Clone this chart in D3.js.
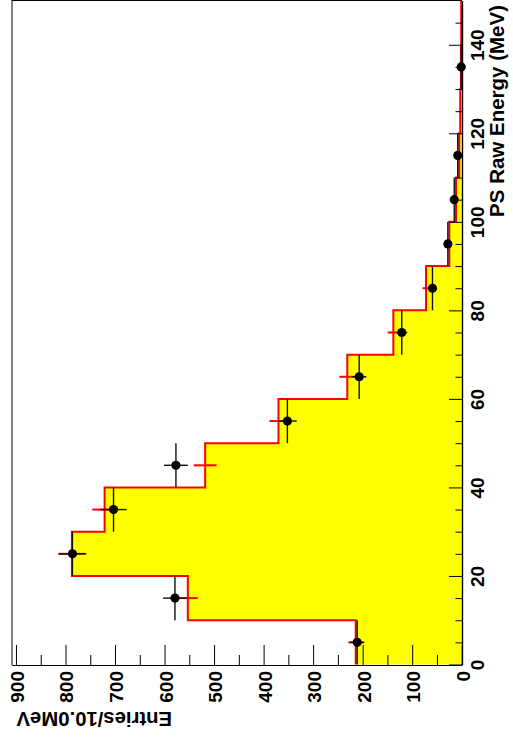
<!DOCTYPE html>
<html lang="en">
<head>
  <meta charset="UTF-8">
  <title>PS Raw Energy</title>
  <script src="https://d3js.org/d3.v7.min.js"></script>
  <style>
    body { margin: 0; background: #fff; }
    svg { display: block; font-family: "Liberation Sans", Arial, sans-serif; font-weight: bold; }
  </style>
</head>
<body>
  <div id="chart"></div>
  <script>
    // bins are 10 MeV wide, drawn rotated (energy runs up the page)
    const binCenters = [5, 15, 25, 35, 45, 55, 65, 75, 85, 95, 105, 115, 125, 135, 145];
    const mcEntries  = [214, 553, 787, 721, 518, 370, 231, 138, 72, 25, 11.5, 5, 3, 1.5, 1];
    const mcErrors   = [15, 20, 27, 25, 23, 18, 16, 11.5, 7, 4.5, 3, 2, 1.5, 1, 1];
    const dataEntries = [211, 579, 786, 703, 577, 352, 207, 121, 59, 28, 15, 8, 0, 1, 0];
    const dataErrors  = [14.5, 24, 28, 26.5, 24, 18.8, 14.4, 11, 7.7, 5.3, 3.9, 2.8, 0, 1, 0];
    const energyTicks = [0, 20, 40, 60, 80, 100, 120, 140];
    const entryTicks = [0, 100, 200, 300, 400, 500, 600, 700, 800, 900];
    const binWidth = 10;

    const W = 513, H = 741;
    const svg = d3.select("#chart").append("svg").attr("width", W).attr("height", H);

    // entries -> horizontal (0 on the right), energy -> vertical (0 at bottom)
    const xE = d3.scaleLinear().domain([0, 908]).range([461.7, 12]);
    const yE = d3.scaleLinear().domain([0, 150]).range([664.5, 0.5]);

    // MC histogram: yellow fill, red outline
    const steps = [];
    binCenters.forEach((c, i) => {
      steps.push([mcEntries[i], c - binWidth / 2]);
      steps.push([mcEntries[i], c + binWidth / 2]);
    });
    const area = d3.area()
      .y(d => yE(d[1]))
      .x0(xE(0))
      .x1(d => xE(d[0]));
    svg.append("path").datum(steps).attr("d", area).attr("fill", "#ffff00");

    const line = d3.line().x(d => xE(d[0])).y(d => yE(d[1]));
    svg.append("path").datum(steps).attr("d", line)
      .attr("fill", "none").attr("stroke", "#ff0000").attr("stroke-width", 2);

    // MC error bars
    svg.append("g").selectAll("line").data(binCenters).join("line")
      .attr("x1", (c, i) => xE(mcEntries[i] - mcErrors[i]))
      .attr("x2", (c, i) => xE(mcEntries[i] + mcErrors[i]))
      .attr("y1", c => yE(c)).attr("y2", c => yE(c))
      .attr("stroke", "#ff0000").attr("stroke-width", 2);

    // data points
    const pts = binCenters.map((c, i) => ({ c, v: dataEntries[i], e: dataErrors[i] })).filter(d => d.v > 0);
    const dg = svg.append("g");
    dg.selectAll("line.w").data(pts).join("line").attr("class", "w")
      .attr("x1", d => xE(d.v)).attr("x2", d => xE(d.v))
      .attr("y1", d => yE(d.c - binWidth / 2)).attr("y2", d => yE(d.c + binWidth / 2))
      .attr("stroke", "#111").attr("stroke-width", 1.4);
    dg.selectAll("line.e").data(pts).join("line").attr("class", "e")
      .attr("x1", d => xE(d.v - d.e)).attr("x2", d => xE(d.v + d.e))
      .attr("y1", d => yE(d.c)).attr("y2", d => yE(d.c))
      .attr("stroke", "#111").attr("stroke-width", 1.4);
    dg.selectAll("circle").data(pts).join("circle")
      .attr("cx", d => xE(d.v)).attr("cy", d => yE(d.c)).attr("r", 4.6)
      .attr("fill", "#000");

    // frame (top and left)
    svg.append("line").attr("x1", 12).attr("x2", 462).attr("y1", 0.5).attr("y2", 0.5).attr("stroke", "#000");
    svg.append("line").attr("x1", 12).attr("x2", 12).attr("y1", 0).attr("y2", 665).attr("stroke", "#000");

    // energy axis on the right, ticks pointing inward
    const minorE = d3.range(5, 150, 5).filter(v => v % 20 !== 0);
    svg.append("g").attr("transform", "translate(462,0)")
      .call(d3.axisLeft(yE).tickValues(minorE).tickSize(6.5).tickSizeOuter(0).tickFormat(""));
    const gE = svg.append("g").attr("transform", "translate(462,0)")
      .call(d3.axisLeft(yE).tickValues(energyTicks).tickSize(13).tickSizeOuter(0));
    gE.selectAll(".tick text")
      .attr("x", null).attr("dy", null)
      .attr("transform", "translate(21.5,0) rotate(-90)")
      .attr("text-anchor", "middle");

    // entries axis at the bottom, ticks pointing up
    const minorN = d3.range(50, 900, 100);
    svg.append("g").attr("transform", "translate(0,665)")
      .call(d3.axisTop(xE).tickValues(minorN).tickSize(10).tickSizeOuter(0).tickFormat(""));
    const gN = svg.append("g").attr("transform", "translate(0,665)")
      .call(d3.axisTop(xE).tickValues(entryTicks).tickSize(20).tickSizeOuter(0));
    gN.selectAll(".tick text")
      .attr("y", null).attr("dy", null)
      .attr("transform", "translate(7.5,6) rotate(-90)")
      .attr("text-anchor", "end");

    svg.selectAll(".domain").attr("stroke", "#000").attr("stroke-width", 1.2);
    svg.selectAll(".tick line").attr("stroke", "#000");
    svg.selectAll(".tick text")
      .attr("fill", "#000")
      .style("font-size", "19px")
      .style("font-family", "'Liberation Sans', Arial, sans-serif")
      .style("font-weight", "bold");

    // axis titles
    svg.append("text")
      .attr("transform", "translate(504,5) rotate(-90)")
      .attr("text-anchor", "end")
      .style("font-size", "20.5px")
      .text("PS Raw Energy (MeV)");
    svg.append("text")
      .attr("transform", "translate(16.5,711.5) rotate(180)")
      .attr("text-anchor", "end")
      .style("font-size", "20.3px")
      .text("Entries/10.0MeV");
  </script>
</body>
</html>
